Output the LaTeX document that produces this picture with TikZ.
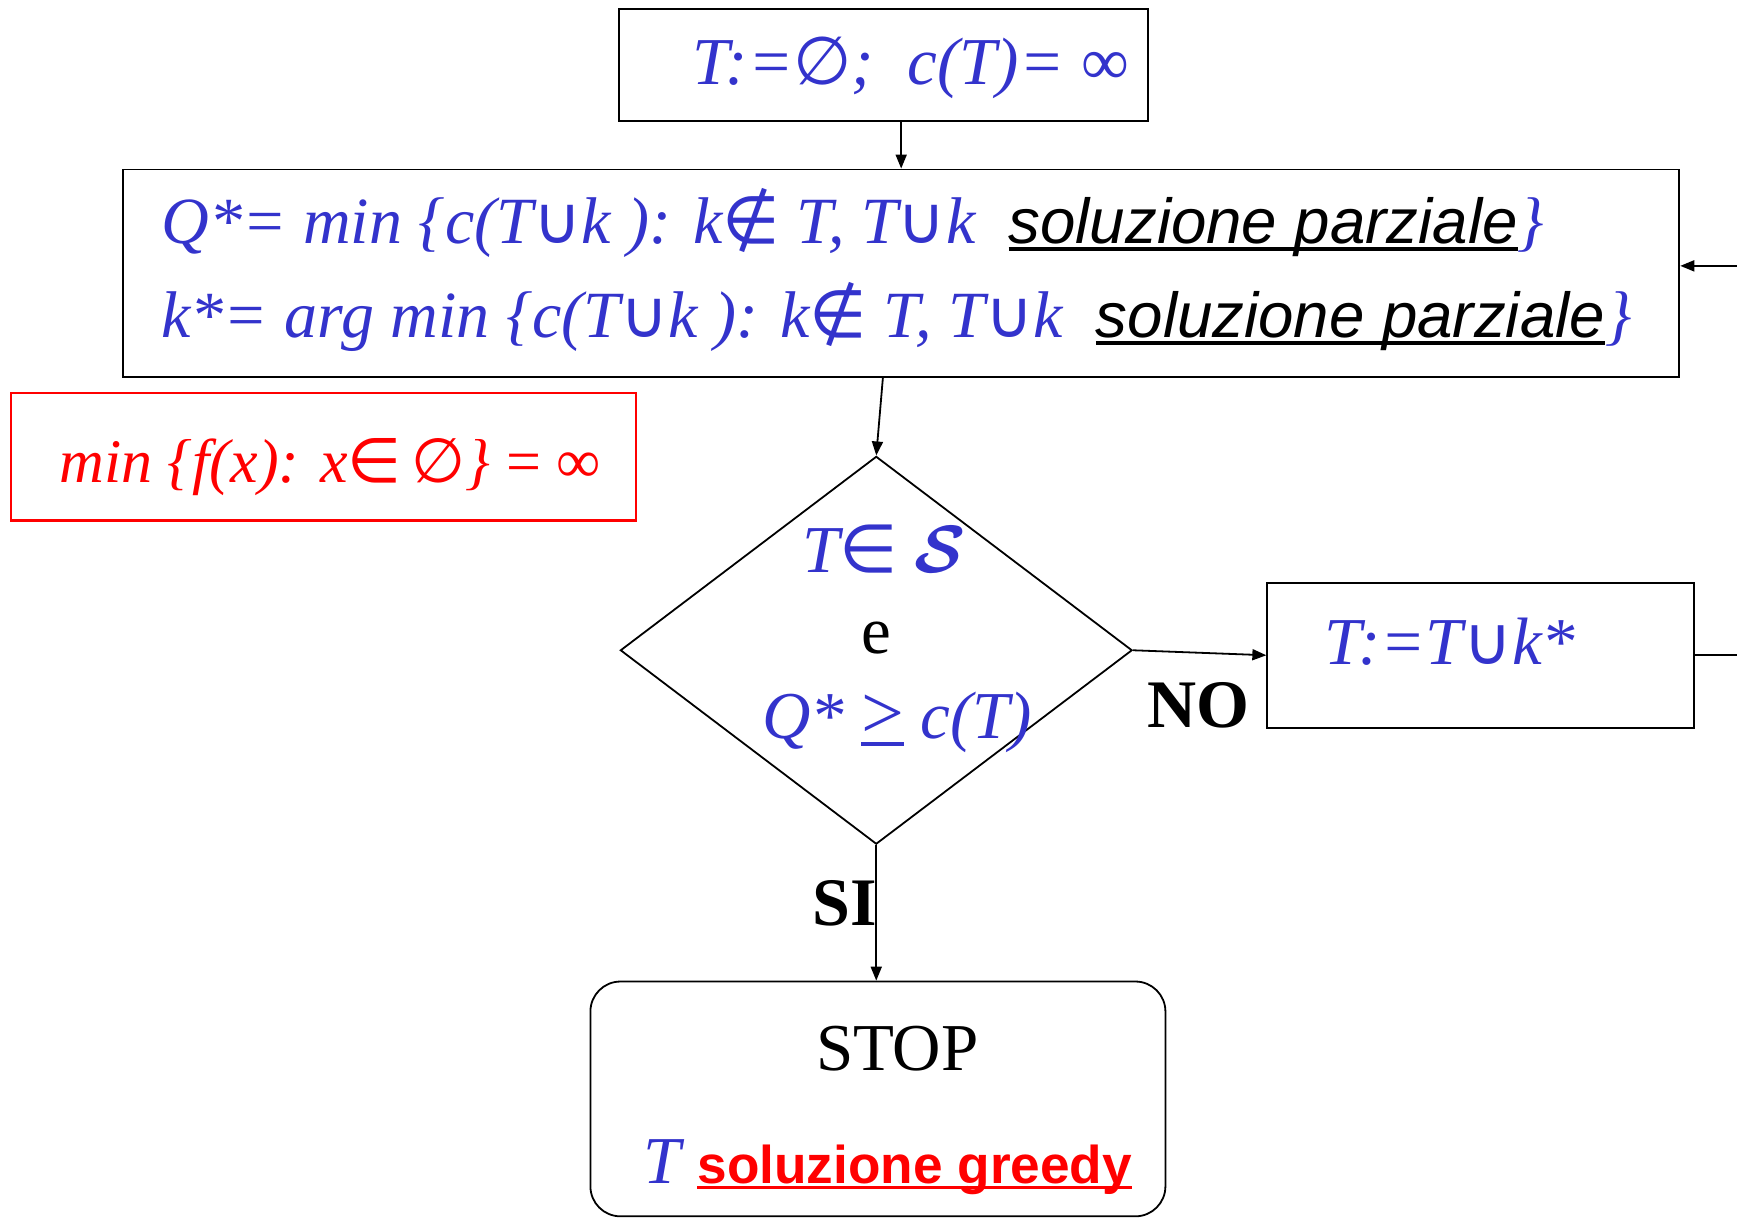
\RequirePackage{fix-cm}
\documentclass[tikz,border=0pt]{standalone}
\usepackage{fontspec}
\usepackage{amssymb}
\setmainfont{Liberation Serif}
\newfontfamily\hv{Liberation Sans}
\newfontfamily\dvs{DejaVu Sans}
\usetikzlibrary{shapes.geometric,arrows.meta,calc}
\definecolor{bl}{RGB}{51,51,204}
\definecolor{rd}{RGB}{255,0,0}
\newcommand{\fbig}{\fontsize{33.5}{40}\selectfont}
\newcommand{\myul}[1]{\leavevmode\setbox0=\hbox{#1}\rlap{\rule[-0.11em]{\wd0}{0.065em}}\box0}
\newcommand{\sUn}{{\upshape\dvs ∪}}
\newcommand{\sNotin}{{\upshape\dvs ∉}}
\newcommand{\sIn}{{\upshape\dvs ∈}}
\newcommand{\sEmpty}{{\upshape\dvs ∅}}
\newcommand{\sInf}{{\upshape ∞}}
\tikzset{
  box/.style={draw,line width=0.9pt,inner sep=0pt},
  txt/.style={inner sep=0pt,font=\fbig},
}
\begin{document}
\begin{tikzpicture}[x=0.5539pt,y=-0.5539pt,line width=0.9pt,>={Triangle[length=7pt,width=5.5pt]}]
\useasboundingbox (0,0) rectangle (1568,1099.5);
\clip (0,0) rectangle (1568,1099.5);
% boxes
\node[box,minimum width=264.2pt,minimum height=55.9pt] (init) at (797.5,58.5) {};
\node[box,minimum width=778.2pt,minimum height=103.6pt] (sel) at (813.5,246.5) {};
\node[draw=rd,line width=1.2pt,inner sep=0pt,minimum width=312.4pt,minimum height=63.7pt] (empty) at (292,412.5) {};
\node[diamond,draw,line width=0.9pt,inner sep=0pt,minimum width=255.9pt,minimum height=193.9pt] (test) at (791,587) {};
\node[box,minimum width=213.3pt,minimum height=72.6pt] (upd) at (1336.5,591.5) {};
\node[box,rounded corners=15pt,minimum width=287.5pt,minimum height=117.4pt] (stop) at (792.5,992) {};
% texts
\node[txt,anchor=base] (initT) at (822,76) {\color{bl}\itshape T:=\sEmpty;\ \ c(T)= \sInf};
\node[txt,anchor=base west,font=\fontsize{33}{40}\selectfont] (l1) at (145,220) {\color{bl}\itshape Q*= min \{c(T\sUn k ): k\sNotin\ T, T\sUn k\ \ {\fontsize{31.8}{40}\selectfont\hv\color{black}\myul{soluzione parziale}}\}};
\node[txt,anchor=base west,font=\fontsize{33}{40}\selectfont] (l2) at (145,305) {\color{bl}\itshape k*= arg min \{c(T\sUn k ): k\sNotin\ T, T\sUn k\ \ {\fontsize{31.8}{40}\selectfont\hv\color{black}\myul{soluzione parziale}}\}};
\node[txt,anchor=base,font=\fontsize{31}{40}\selectfont] (emptyT) at (298,436) {\color{rd}{\itshape min \{f(x): x\sIn\,\sEmpty\}} = \sInf};
\node[txt,anchor=base] (d1) at (798,517) {\color{bl}{\itshape T}\sIn\ {\boldmath$\mathcal{S}$}};
\node[txt,anchor=base] (d2) at (791,590) {e};
\node[txt,anchor=base] (d3) at (810,667) {\color{bl}{\itshape Q*}\ \myul{\fontsize{38}{40}\selectfont >}\hspace{0.25em}{\itshape c(T)}};
\node[txt,anchor=base west] (updT) at (1195,600) {\color{bl}\itshape T:=T\sUn k*};
\node[txt,anchor=base,font=\fontsize{34}{40}\selectfont\bfseries] (no) at (1082,657) {NO};
\node[txt,anchor=base east,font=\fontsize{34}{40}\selectfont\bfseries] (si) at (792,835) {SI};
\node[txt,anchor=base] (stopT) at (810,966) {STOP};
\node[txt,anchor=base west] (res) at (580,1068) {{\color{bl}\itshape T} {\fontsize{26.6}{30}\selectfont\hv\bfseries\color{rd}\myul{soluzione greedy}}};
% connectors
\coordinate (out1) at (1640,591.5);
\coordinate (out2) at (1640,240);
\draw[->] (init.south -| sel.north) -- (sel.north);
\draw[->] ($(sel.south)+(-16.5,0)$) -- (test.north);
\draw[->] (test.east) -- (upd.west);
\draw[->] (test.south) -- (test.south |- stop.north);
\draw[->] (upd.east) -- (out1) -- (out2) -- (sel.east |- out2);
\end{tikzpicture}
\end{document}
